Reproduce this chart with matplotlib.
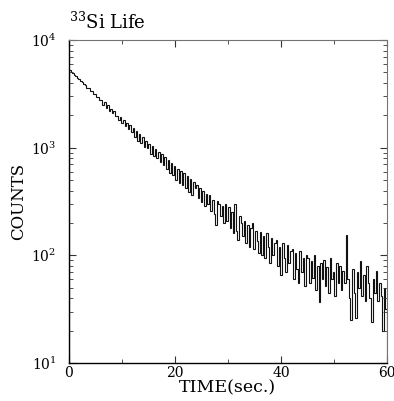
import numpy as np
import matplotlib
matplotlib.use("Agg")
import matplotlib.pyplot as plt
from matplotlib import ticker

plt.rcParams['font.family'] = ['DejaVu Serif']
plt.rcParams['mathtext.fontset'] = 'dejavuserif'

# histogram: 0.3 s bins from 0 to 60 s, counts
bin_width = 0.3
counts = [
    5300, 5080, 4990, 4740, 4650, 4420, 4370, 4150, 4090, 3870,
    3820, 3610, 3590, 3380, 3360, 3140, 3150, 2950, 2960, 2760,
    2780, 2520, 2650, 2360, 2480, 2200, 2290, 2080, 2170, 1960,
    1990, 1820, 1930, 1690, 1800, 1580, 1700, 1480, 1610, 1390,
    1520, 1260, 1420, 1150, 1340, 1100, 1250, 1020, 1160, 990,
    1080, 880, 1030, 830, 970, 800, 920, 740, 880, 690,
    820, 640, 770, 580, 720, 560, 680, 500, 640, 470,
    610, 450, 580, 420, 540, 390, 510, 360, 480, 420,
    450, 340, 420, 310, 400, 290, 370, 300, 360, 260,
    330, 240, 190, 320, 300, 230, 290, 200, 300, 210,
    280, 180, 250, 160, 300, 170, 140, 230, 200, 150,
    210, 130, 190, 120, 180, 200, 115, 170, 135, 105,
    165, 100, 150, 95, 160, 120, 85, 145, 100, 130,
    140, 80, 120, 65, 130, 95, 70, 125, 85, 110,
    115, 60, 105, 75, 55, 110, 70, 95, 52, 100,
    95, 55, 88, 62, 100, 48, 80, 37, 85, 60,
    90, 52, 78, 45, 95, 60, 70, 42, 85, 55,
    80, 48, 72, 55, 156, 60, 40, 25, 75, 45,
    26, 70, 50, 88, 42, 65, 38, 80, 55, 40,
    24, 60, 45, 72, 38, 55, 42, 20, 50, 32,
]
edges = np.arange(len(counts) + 1) * bin_width

title = "$^{33}$Si Life"
xlabel = "TIME(sec.)"
ylabel = "COUNTS"
xmajor = [0, 20, 40, 60]
xminor = [10, 30, 50]

fig = plt.figure(figsize=(3.94, 4.01), dpi=100)
ax = fig.add_axes([0.175, 0.095, 0.807, 0.805])

ax.stairs(counts, edges, color='#111111', lw=0.8)

ax.set_yscale('log')
ax.set_xlim(0, 60)
ax.set_ylim(10, 1e4)

ax.xaxis.set_major_locator(ticker.FixedLocator(xmajor))
ax.xaxis.set_minor_locator(ticker.FixedLocator(xminor))
ax.yaxis.set_major_locator(ticker.LogLocator(base=10))
ax.yaxis.set_minor_locator(ticker.LogLocator(base=10, subs=np.arange(2, 10)))
ax.yaxis.set_major_formatter(ticker.FuncFormatter(
    lambda v, p: "$10^{%d}$" % int(round(np.log10(v)))))
ax.yaxis.set_minor_formatter(ticker.NullFormatter())

ax.tick_params(which='both', direction='in', top=True, right=True,
               labelsize=10, color='0.2')
ax.tick_params(which='major', length=5, width=0.8)
ax.tick_params(which='minor', length=3, width=0.6)
ax.tick_params(axis='x', pad=2)
ax.tick_params(axis='y', pad=9)

for s in ['left', 'bottom']:
    ax.spines[s].set_linewidth(1.0)
for s in ['top', 'right']:
    ax.spines[s].set_linewidth(0.8)
    ax.spines[s].set_color('0.45')

ax.set_xlabel(xlabel, fontsize=12.5, labelpad=0)
ax.set_ylabel(ylabel, fontsize=12, labelpad=3)
ax.set_title(title, loc='left', fontsize=13, pad=8)

plt.savefig("out.png", dpi=100)
